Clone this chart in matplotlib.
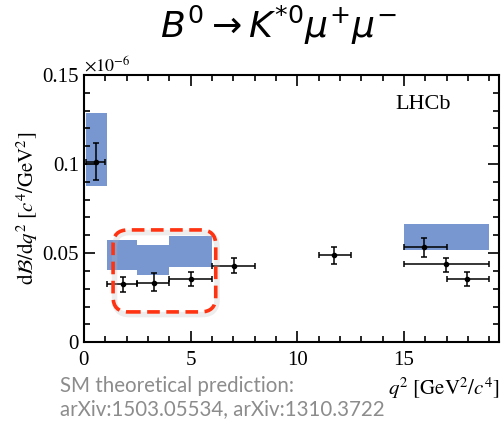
import numpy as np
import matplotlib
matplotlib.use("Agg")
from matplotlib import pyplot as plt
from matplotlib.patches import FancyBboxPatch, Rectangle

plt.rcParams['font.family'] = ['Liberation Serif', 'DejaVu Serif']
plt.rcParams['mathtext.fontset'] = 'stix'

# LHCb measurement (units of 1e-6)
q2_lo = [0.1, 1.1, 2.5, 4.0, 6.0, 11.0, 15.0, 15.0, 17.0]
q2_hi = [0.98, 2.5, 4.0, 6.0, 8.0, 12.5, 17.0, 19.0, 19.0]
q2_mid = [0.59, 1.84, 3.28, 5.0, 7.03, 11.74, 15.95, 16.97, 17.97]
dbdq2 = [0.1013, 0.0324, 0.0335, 0.0352, 0.0429, 0.0489, 0.0535, 0.0437, 0.0352]
err_up = [0.0103, 0.0043, 0.0051, 0.0040, 0.0045, 0.0046, 0.0048, 0.0037, 0.0043]
err_dn = [0.0103, 0.0041, 0.0047, 0.0037, 0.0043, 0.0051, 0.0055, 0.0042, 0.0037]

# SM prediction bands
sm_lo = [0.1, 1.1, 2.5, 4.0, 15.0]
sm_hi = [1.1, 2.5, 4.0, 6.0, 19.0]
sm_top = [0.1285, 0.0573, 0.0545, 0.0596, 0.0663]
sm_bot = [0.0876, 0.0404, 0.0376, 0.0423, 0.0517]

fig = plt.figure(figsize=(5.02, 4.23), dpi=100)
ax = fig.add_axes([0.167, 0.191, 0.827, 0.632])

for lo, hi, top, bot in zip(sm_lo, sm_hi, sm_top, sm_bot):
    ax.add_patch(Rectangle((lo, bot), hi - lo, top - bot,
                           facecolor='#7896d0', edgecolor='none', zorder=1))

xerr = [np.array(q2_mid) - np.array(q2_lo), np.array(q2_hi) - np.array(q2_mid)]
ax.errorbar(q2_mid, dbdq2, yerr=[err_dn, err_up], xerr=xerr, fmt='o', color='black',
            ms=3, lw=1.1, capsize=2, capthick=1.1, zorder=3)

ax.set_xlim(0, 19.45)
ax.set_ylim(0, 0.15)
ax.set_xticks([0, 5, 10, 15])
ax.set_xticks(np.arange(0, 20, 1), minor=True)
ax.set_yticks([0, 0.05, 0.1, 0.15])
ax.set_yticklabels(['0', '0.05', '0.1', '0.15'])
ax.set_yticks(np.arange(0, 0.151, 0.01), minor=True)
ax.tick_params(which='both', direction='in', top=True, right=True, labelsize=15, width=1.2)
ax.tick_params(which='major', length=8)
ax.tick_params(which='minor', length=4)
ax.tick_params(axis='x', pad=6)
for s in ax.spines.values():
    s.set_linewidth(1.5)

ax.set_ylabel(r'$\mathrm{d}\mathcal{B}/\mathrm{d}q^2\ [c^4/\mathrm{GeV}^2]$', fontsize=15, labelpad=2)
ax.text(1.0, -0.125, r'$q^2\ [\mathrm{GeV}^2/c^4]$', transform=ax.transAxes,
        ha='right', va='top', fontsize=15)
ax.text(0.0, 1.0, r'$\times10^{-6}$', transform=ax.transAxes, ha='left', va='bottom', fontsize=13)
ax.text(0.75, 0.89, 'LHCb', transform=ax.transAxes, ha='left', va='center', fontsize=16)

# highlighted region
asp = (0.15 / 267) / (19.45 / 415)
ax.add_patch(FancyBboxPatch((1.44, 0.0155), 4.8, 0.046, boxstyle='round,pad=0,rounding_size=0.7',
                            mutation_aspect=asp, facecolor='none', edgecolor='#bbbbbb',
                            lw=4, alpha=0.25, zorder=4))
ax.add_patch(FancyBboxPatch((1.37, 0.017), 4.81, 0.046, boxstyle='round,pad=0,rounding_size=0.7',
                            mutation_aspect=asp, facecolor='none', edgecolor='#ff3311',
                            lw=2.6, linestyle=(0, (3.5, 1.8)), zorder=5))

fig.text(0.555, 0.94, r'$B^0 \rightarrow K^{*0}\mu^{+}\mu^{-}$', ha='center', va='center',
         fontsize=26, math_fontfamily='dejavusans')
fig.text(0.12, 0.11, 'SM theoretical prediction:\narXiv:1503.05534, arXiv:1310.3722',
         ha='left', va='top', fontsize=14.8, color='#8c8c8c', family='Lato', linespacing=1.15)

fig.savefig('out.png', dpi=100)
